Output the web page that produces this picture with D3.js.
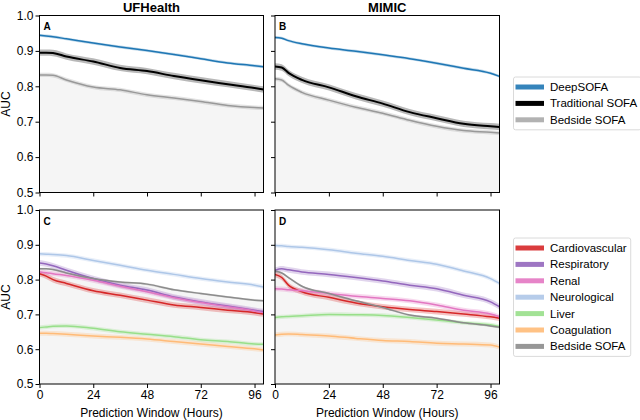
<!DOCTYPE html>
<html>
<head>
<meta charset="utf-8">
<script src="https://cdn.jsdelivr.net/npm/d3@7"></script>
<style>
  body { margin: 0; background: #fff; }
  svg { font-family: "Liberation Sans", Arial, Helvetica, sans-serif; }
</style>
</head>
<body>
<svg id="chart" width="640" height="420"></svg>
<script>
// prediction window (hours)
var hours = [0, 3, 6, 12, 24, 36, 48, 60, 72, 84, 96, 100];
var xTicks = [0, 24, 48, 72, 96];
var yTicks = [0.5, 0.6, 0.7, 0.8, 0.9, 1.0];

var sofaNames = ["DeepSOFA", "Traditional SOFA", "Bedside SOFA"];
var sofaColors = ["#1f77b4", "#000000", "#999999"];
var sofaBands = [0.004, 0.009, 0.006];

// panel A - UFHealth
var ufDeep     = [0.944, 0.942, 0.940, 0.934, 0.922, 0.911, 0.901, 0.890, 0.878, 0.866, 0.858, 0.855];
var ufTrad     = [0.895, 0.895, 0.894, 0.884, 0.870, 0.852, 0.843, 0.829, 0.817, 0.806, 0.795, 0.791];
var ufBedside  = [0.832, 0.832, 0.831, 0.818, 0.798, 0.790, 0.776, 0.767, 0.757, 0.746, 0.740, 0.739];
// panel B - MIMIC
var mmDeep     = [0.938, 0.936, 0.929, 0.920, 0.908, 0.899, 0.889, 0.878, 0.865, 0.851, 0.837, 0.828];
var mmTrad     = [0.856, 0.853, 0.838, 0.818, 0.797, 0.772, 0.751, 0.727, 0.710, 0.694, 0.687, 0.685];
var mmBedside  = [0.821, 0.818, 0.803, 0.783, 0.761, 0.741, 0.724, 0.704, 0.687, 0.675, 0.670, 0.668];

var organNames = ["Cardiovascular", "Respiratory", "Renal", "Neurological", "Liver", "Coagulation", "Bedside SOFA"];
var organColors = ["#d62728", "#9467bd", "#e377c2", "#aec7e8", "#98df8a", "#ffbb78", "#8c8c8c"];
var organBands = [0.008, 0.008, 0.007, 0.006, 0.006, 0.007, 0.003];

// panel C - UFHealth organ systems
var ufCardio = [0.817, 0.810, 0.800, 0.789, 0.768, 0.755, 0.741, 0.727, 0.720, 0.712, 0.705, 0.701];
var ufResp   = [0.848, 0.845, 0.840, 0.827, 0.803, 0.784, 0.770, 0.750, 0.736, 0.724, 0.712, 0.708];
var ufRenal  = [0.822, 0.820, 0.817, 0.812, 0.798, 0.781, 0.765, 0.748, 0.734, 0.722, 0.710, 0.705];
var ufNeuro  = [0.874, 0.873, 0.872, 0.869, 0.855, 0.841, 0.827, 0.815, 0.803, 0.793, 0.784, 0.779];
var ufLiver  = [0.662, 0.664, 0.666, 0.667, 0.660, 0.650, 0.643, 0.636, 0.627, 0.622, 0.615, 0.614];
var ufCoag   = [0.646, 0.646, 0.645, 0.643, 0.638, 0.634, 0.629, 0.622, 0.615, 0.608, 0.601, 0.598];
var ufBed2   = [0.831, 0.831, 0.829, 0.819, 0.803, 0.793, 0.787, 0.771, 0.760, 0.750, 0.741, 0.739];
// panel D - MIMIC organ systems
var mmCardio = [0.815, 0.806, 0.784, 0.765, 0.749, 0.733, 0.722, 0.714, 0.708, 0.701, 0.693, 0.689];
var mmResp   = [0.827, 0.831, 0.828, 0.822, 0.815, 0.806, 0.796, 0.784, 0.774, 0.755, 0.736, 0.722];
var mmRenal  = [0.774, 0.773, 0.771, 0.768, 0.760, 0.752, 0.746, 0.739, 0.727, 0.712, 0.701, 0.693];
var mmNeuro  = [0.898, 0.897, 0.895, 0.893, 0.886, 0.876, 0.867, 0.855, 0.844, 0.825, 0.803, 0.789];
var mmLiver  = [0.691, 0.693, 0.694, 0.696, 0.700, 0.699, 0.697, 0.691, 0.684, 0.676, 0.670, 0.665];
var mmCoag   = [0.641, 0.643, 0.644, 0.642, 0.638, 0.631, 0.625, 0.622, 0.617, 0.615, 0.612, 0.606];
var mmBed2   = [0.825, 0.819, 0.806, 0.781, 0.760, 0.739, 0.720, 0.698, 0.689, 0.676, 0.667, 0.663];

var panels = [
  { label: "A", left: 39.5, top: 15.5, w: 224, h: 177, title: "UFHealth", series: [ufDeep, ufTrad, ufBedside], bedside: ufBedside, names: sofaNames, colors: sofaColors, bands: sofaBands, yLab: true, xLab: false },
  { label: "B", left: 275, top: 15.5, w: 224.5, h: 177, title: "MIMIC", series: [mmDeep, mmTrad, mmBedside], bedside: mmBedside, names: sofaNames, colors: sofaColors, bands: sofaBands, yLab: false, xLab: false },
  { label: "C", left: 39.5, top: 210, w: 224, h: 174, series: [ufCardio, ufResp, ufRenal, ufNeuro, ufLiver, ufCoag, ufBed2], bedside: ufBed2, names: organNames, colors: organColors, bands: organBands, yLab: true, xLab: true },
  { label: "D", left: 275, top: 210, w: 224.5, h: 174, series: [mmCardio, mmResp, mmRenal, mmNeuro, mmLiver, mmCoag, mmBed2], bedside: mmBed2, names: organNames, colors: organColors, bands: organBands, yLab: false, xLab: true }
];

var svg = d3.select("#chart");

panels.forEach(function(p, pi) {
  var x = d3.scaleLinear().domain([0, 100]).range([0, p.w]);
  var y = d3.scaleLinear().domain([0.5, 1.0]).range([p.h, 0]);
  var g = svg.append("g").attr("transform", "translate(" + p.left + "," + p.top + ")");

  g.append("clipPath").attr("id", "clip" + pi)
    .append("rect").attr("width", p.w).attr("height", p.h);
  var plot = g.append("g").attr("clip-path", "url(#clip" + pi + ")");

  // grey shading below bedside SOFA
  plot.append("path")
    .attr("d", d3.area().x(function(d, i) { return x(hours[i]); })
      .y0(y(0.5)).y1(function(d) { return y(d); }).curve(d3.curveMonotoneX)(p.bedside))
    .attr("fill", "#f5f5f5");

  p.series.forEach(function(vals, si) {
    var band = p.bands[si];
    plot.append("path")
      .attr("d", d3.area().x(function(d, i) { return x(hours[i]); })
        .y0(function(d) { return y(d - band); }).y1(function(d) { return y(d + band); })
        .curve(d3.curveMonotoneX)(vals))
      .attr("fill", p.colors[si]).attr("fill-opacity", 0.28);
  });
  p.series.forEach(function(vals, si) {
    plot.append("path")
      .attr("d", d3.line().x(function(d, i) { return x(hours[i]); })
        .y(function(d) { return y(d); }).curve(d3.curveMonotoneX)(vals))
      .attr("fill", "none").attr("stroke", p.colors[si])
      .attr("stroke-width", p.colors[si] == "#000000" ? 2 : 1.5);
  });

  // axes
  var ya = g.append("g").call(d3.axisLeft(y).tickValues(yTicks).tickSize(4).tickPadding(2)
    .tickFormat(p.yLab ? d3.format(".1f") : ""));
  var xa = g.append("g").attr("transform", "translate(0," + p.h + ")")
    .call(d3.axisBottom(x).tickValues(xTicks).tickSize(4).tickPadding(2)
    .tickFormat(p.xLab ? d3.format("d") : ""));
  [ya, xa].forEach(function(a) {
    a.select(".domain").remove();
    a.selectAll("text").attr("font-size", 12).attr("fill", "#000").attr("font-family", null);
    a.selectAll("line").attr("stroke", "#000");
  });

  g.append("rect").attr("width", p.w).attr("height", p.h)
    .attr("fill", "none").attr("stroke", "#000").attr("stroke-width", 1);

  g.append("text").attr("x", 4).attr("y", 14.5).text(p.label)
    .attr("font-size", 10).attr("font-weight", "bold");

  if (p.title) {
    g.append("text").attr("x", p.w / 2).attr("y", -4).attr("text-anchor", "middle")
      .attr("font-size", 13).attr("font-weight", "bold").text(p.title);
  }
  if (p.yLab) {
    g.append("text").attr("transform", "translate(" + (-30) + "," + (p.h / 2) + ") rotate(-90)")
      .attr("text-anchor", "middle").attr("font-size", 12).text("AUC");
  }
  if (p.xLab) {
    g.append("text").attr("x", p.w / 2).attr("y", p.h + 33).attr("text-anchor", "middle")
      .attr("font-size", 12).text("Prediction Window (Hours)");
  }
});

// legends
function legend(names, colors, top) {
  var lg = svg.append("g").attr("transform", "translate(513.5," + top + ")");
  var box = lg.append("rect").attr("rx", 2).attr("fill", "#fff")
    .attr("stroke", "#d0d0d0").attr("stroke-width", 0.8);
  var maxW = 0;
  names.forEach(function(n, i) {
    var cy = 10 + i * 16.4;
    lg.append("line").attr("x1", 2).attr("x2", 30.5).attr("y1", cy).attr("y2", cy)
      .attr("stroke", colors[i]).attr("stroke-width", 5)
      .attr("stroke-opacity", colors[i] == "#000000" ? 1 : 0.9);
    var t = lg.append("text").attr("x", 36.5).attr("y", cy + 4).attr("font-size", 11.5).text(n);
    maxW = Math.max(maxW, t.node().getComputedTextLength());
  });
  box.attr("width", 36.5 + maxW + 4).attr("height", 20 + (names.length - 1) * 16.4);
}
legend(sofaNames, ["#1f77b4", "#000000", "#aaaaaa"], 77);
legend(organNames, organColors, 238);
</script>
</body>
</html>
